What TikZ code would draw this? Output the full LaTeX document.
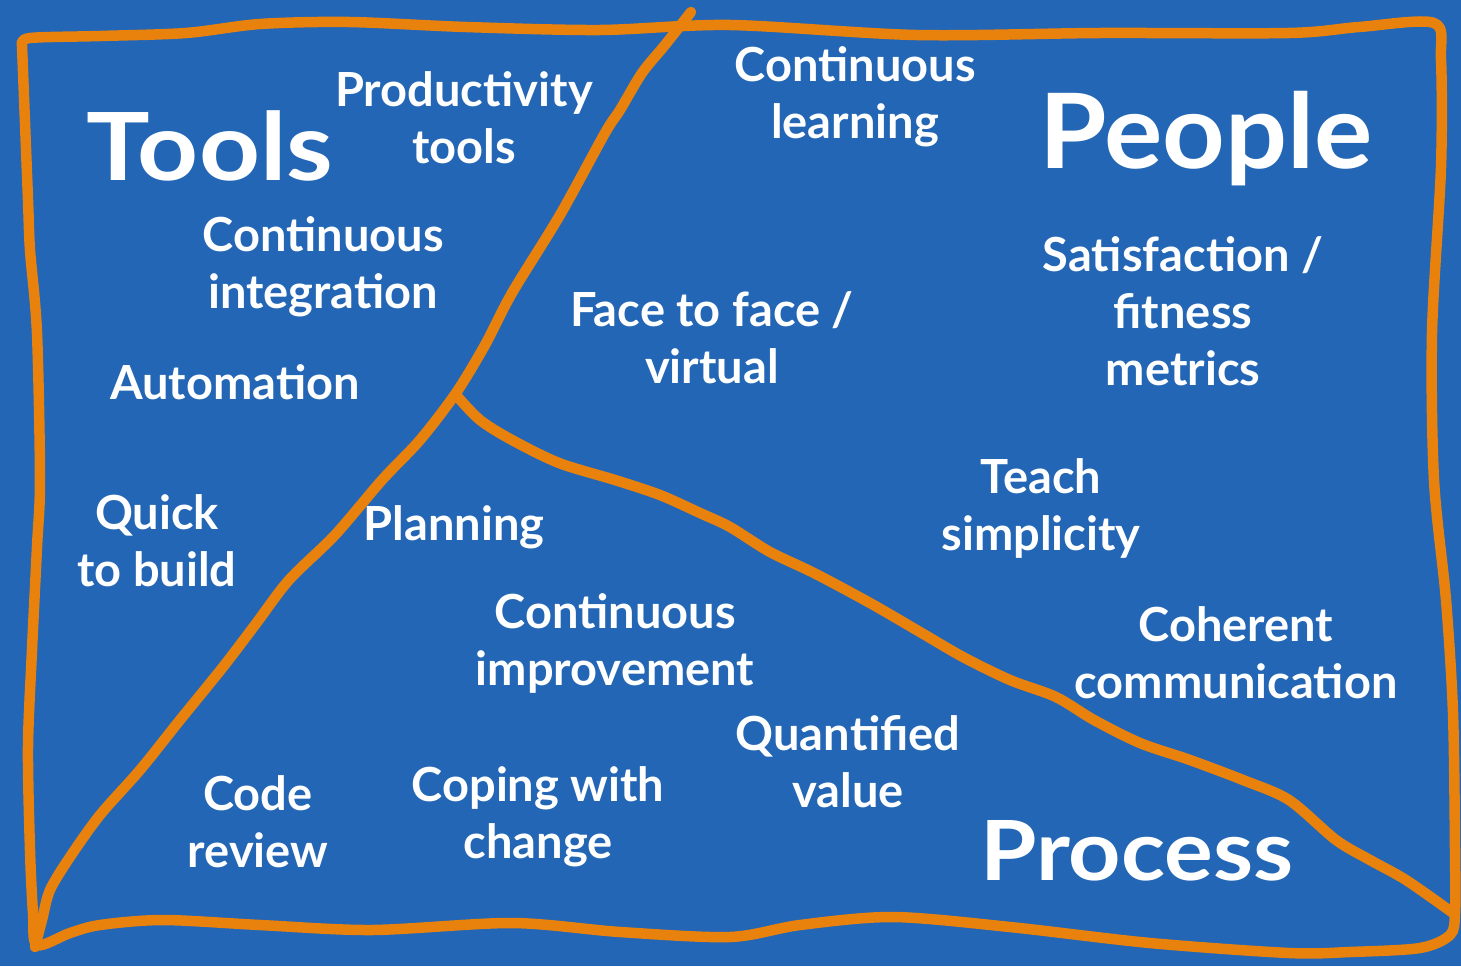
\documentclass[tikz,border=0pt]{standalone}
\usepackage{fontspec}
\setmainfont{Lato}[BoldFont={* Bold}]
\definecolor{bgblue}{HTML}{2366B5}
\definecolor{penorange}{HTML}{E8820C}
\tikzset{
  lbl/.style={text=white, font=\bfseries\fontsize{47}{57}\selectfont, align=center, anchor=base, inner sep=0pt},
  big/.style={text=white, anchor=base, inner sep=0pt},
  pen/.style={draw=penorange, line width=10.5pt, line cap=round, line join=round}
}
\begin{document}
\begin{tikzpicture}[x=1pt,y=-1pt]
\fill[bgblue] (0,0) rectangle (1461,966);
\useasboundingbox (0,0) rectangle (1461,966);
% frame
\draw[pen] plot[smooth, tension=0.5] coordinates {
 (22,45) (30,38) (100,36) (186,33) (260,24) (349,22) (466,27) (600,30) (730,25) (916,35) (1100,33) (1289,33) (1359,27) (1434,23)
 (1441,60) (1441,167) (1432,333) (1434,480) (1446,600) (1453,713) (1455,850) (1455,913) (1450,935) (1420,948) (1350,952) (1289,953) (1150,943) (1010,927) (893,917) (800,925) (730,937) (620,932) (512,923) (372,930) (260,925) (163,920) (100,925) (70,933) (37,945)
 (33,913) (30,850) (28,747) (32,650) (37,547) (40,480) (37,333) (30,250) (28,200) (22,45)};
% divider 1
\draw[pen] plot[smooth, tension=0.5] coordinates {
 (691,12) (665,45) (642,73) (620,110) (605,133) (560,215) (512,293) (485,345) (456,393) (420,440) (382,480) (335,535) (289,580) (255,625) (223,667) (180,720) (140,770) (100,815) (70,857) (50,890) (42,920) (35,947)};
% divider 2
\draw[pen] plot[smooth, tension=0.5] coordinates {
 (456,395) (480,420) (512,440) (559,463) (615,480) (660,495) (700,513) (730,527) (770,552) (814,573) (870,603) (920,632) (963,657) (1010,680) (1056,697) (1094,720) (1140,743) (1190,760) (1243,780) (1289,800) (1336,840) (1370,860) (1406,880) (1453,913)};
% headings
\node[big, font=\bfseries\fontsize{94}{100}\selectfont] (tools) at (210,180) {\scalebox{1.13}[1]{Tools}};
\node[big, font=\bfseries\fontsize{104}{110}\selectfont] (people) at (1206,168) {\scalebox{1.05}[1]{People}};
\node[big, font=\bfseries\fontsize{83}{90}\selectfont] (process) at (1137,880) {\scalebox{1.10}[1]{Process}};
% labels (anchor = baseline of last line)
\node[lbl] (prod) at (464,163) {Productivity\\tools};
\node[lbl] (ci) at (323,308) {Continuous\\integration};
\node[lbl] (auto) at (235,399) {Automation};
\node[lbl] (face) at (712,383) {Face to face /\\virtual};
\node[lbl] (cl) at (855,138) {Continuous\\learning};
\node[lbl] (sat) at (1183,385) {Satisfaction /\\fitness\\metrics};
\node[lbl] (teach) at (1041,550) {Teach\\simplicity};
\node[lbl] (quick) at (157,586) {Quick\\to build};
\node[lbl] (plan) at (454,540) {Planning};
\node[lbl] (cimp) at (615,685) {Continuous\\improvement};
\node[lbl] (coh) at (1236,698) {Coherent\\communication};
\node[lbl] (quant) at (848,807) {Quantified\\value};
\node[lbl] (code) at (258,867) {Code\\review};
\node[lbl] (cope) at (538,858) {Coping with\\change};
\end{tikzpicture}
\end{document}
